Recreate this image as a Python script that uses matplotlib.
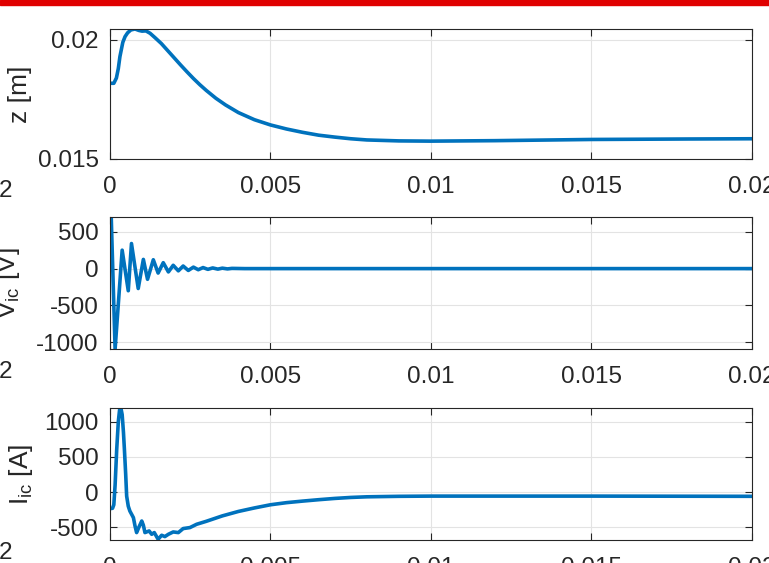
import matplotlib
matplotlib.use("Agg")
import matplotlib.pyplot as plt
from matplotlib.patches import Rectangle

# time axis shared by all panels [s]
x_ticks = [0, 0.005, 0.01, 0.015, 0.02]
x_ticklabels = ["0", "0.005", "0.01", "0.015", "0.02"]

# z [m]
t_z = [0, 0.00012, 0.0002, 0.00026, 0.00031, 0.0004, 0.00047, 0.00055, 0.00065,
       0.00078, 0.0009, 0.001, 0.00112, 0.00125, 0.0014, 0.0016, 0.0018, 0.002,
       0.0022, 0.0024, 0.0026, 0.0028, 0.003, 0.0033, 0.0036, 0.004, 0.0045,
       0.005, 0.0055, 0.006, 0.0065, 0.007, 0.0075, 0.008, 0.009, 0.01, 0.012,
       0.015, 0.018, 0.02]
z = [0.01818, 0.01818, 0.0184, 0.0188, 0.0193, 0.0199, 0.02014, 0.0203, 0.02042,
     0.02046, 0.0204, 0.02037, 0.02038, 0.02028, 0.0201, 0.01985, 0.01955, 0.01925,
     0.01895, 0.01866, 0.01838, 0.01812, 0.01788, 0.01755, 0.01727, 0.01695, 0.01665,
     0.01643, 0.01626, 0.01612, 0.016, 0.01592, 0.01585, 0.0158, 0.01576, 0.01575, 0.01577,
     0.01582, 0.01584, 0.01585]

# V_ic [V]
t_v = [0, 0.00004, 0.00016, 0.00038, 0.00057, 0.00067, 0.00088, 0.00104, 0.00117,
       0.00135, 0.0015, 0.00166, 0.00182, 0.00197, 0.00213, 0.00228, 0.00244,
       0.0026, 0.00275, 0.0029, 0.00305, 0.0032, 0.00336, 0.0035, 0.00366,
       0.0038, 0.0042, 0.005, 0.02]
v_ic = [700, 690, -1090, 250, -300, 340, -270, 125, -145,
        120, -60, 80, -45, 45, -30, 35, -25,
        20, -15, 14, -10, 9, -7, 6, -4, 3, 0, 0, 0]

# I_ic [A]
t_i = [0, 0.00008, 0.00012, 0.00016, 0.00021, 0.00026, 0.0003, 0.00034, 0.00038,
       0.00042, 0.00045, 0.00049, 0.00052, 0.00057, 0.00062, 0.00068, 0.00073,
       0.00078, 0.00083, 0.0009, 0.00099, 0.00104, 0.00109, 0.00122, 0.0013,
       0.00138, 0.0015, 0.00161, 0.00171, 0.00182, 0.00197, 0.00213, 0.00228,
       0.00249, 0.0027, 0.003, 0.0035, 0.004, 0.0045, 0.005, 0.0055, 0.006,
       0.0065, 0.007, 0.0075, 0.008, 0.009, 0.01, 0.015, 0.02]
i_ic = [-235, -230, -180, 100, 605, 1000, 1170, 1195, 1100,
        850, 605, 250, -57, -200, -269, -320, -363,
        -480, -575, -500, -411, -470, -575, -552, -599,
        -575, -670, -613, -632, -599, -566, -575, -518,
        -504, -457, -415, -338, -275, -225, -180, -150, -128,
        -108, -90, -76, -67, -60, -57, -57, -60]

plt.rcParams["font.family"] = ["Liberation Sans", "DejaVu Sans"]
plt.rcParams["font.size"] = 17.5
dark = "#262626"
blue = "#0072BD"

fig = plt.figure(figsize=(7.69, 5.63), dpi=100)
fig.patches.append(Rectangle((0, 1 - 5 / 563), 1, 5 / 563, transform=fig.transFigure,
                             color="#E00000", zorder=10))

panels = [
    (t_z, z, [0.1430, 0.7176, 0.8349, 0.2309], (0.015, 0.02046), [0.015, 0.02],
     ["0.015", "0.02"], "z [m]", -0.1215),
    (t_v, v_ic, [0.1430, 0.3801, 0.8349, 0.2345], (-1090, 700), [-1000, -500, 0, 500],
     ["-1000", "-500", "0", "500"], r"$\mathregular{V_{ic}}$ [V]", -0.137),
    (t_i, i_ic, [0.1430, 0.0409, 0.8349, 0.2345], (-680, 1195), [-500, 0, 500, 1000],
     ["-500", "0", "500", "1000"], r"$\mathregular{I_{ic}}$ [A]", -0.1168),
]

for t, y, pos, ylim, yt, ytl, ylab, lx in panels:
    ax = fig.add_axes(pos)
    ax.plot(t, y, color=blue, lw=2.6, solid_joinstyle="round")
    ax.set_xlim(0, 0.02)
    ax.set_ylim(*ylim)
    ax.set_xticks(x_ticks)
    ax.set_xticklabels(x_ticklabels)
    ax.set_yticks(yt)
    ax.set_yticklabels(ytl)
    ax.grid(True, color="#e3e3e3", lw=0.8)
    ax.set_axisbelow(True)
    ax.tick_params(direction="in", top=True, right=True, length=5, width=0.8,
                   colors=dark, labelcolor=dark)
    ax.tick_params(axis="x", pad=12)
    ax.tick_params(axis="y", pad=8)
    for s in ax.spines.values():
        s.set_color(dark)
        s.set_linewidth(0.8)
    ax.set_ylabel(ylab, color=dark, fontsize=19)
    ax.yaxis.set_label_coords(lx, 0.5)

# clipped tick labels from the neighbouring figure
for yp in [191, 372, 553]:
    fig.text(12 / 769, 1 - yp / 563, "2", ha="right", va="center", color=dark)

fig.savefig("out.png", dpi=100)
